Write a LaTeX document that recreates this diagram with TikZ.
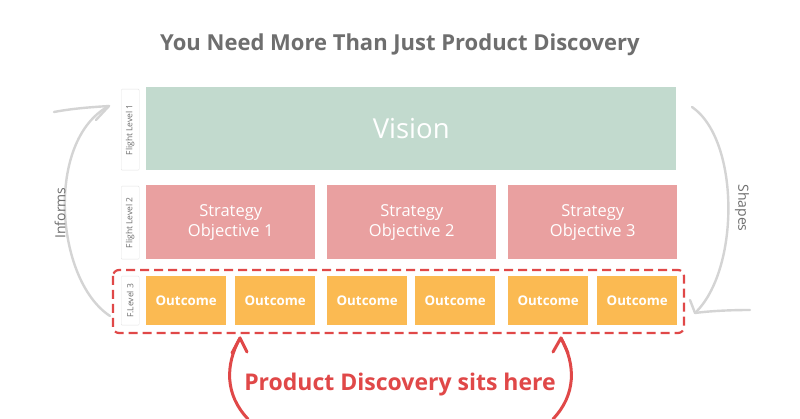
\documentclass[tikz,border=0pt]{standalone}
\usepackage{fontspec}
\setmainfont{Open Sans}
\usetikzlibrary{arrows.meta}
\definecolor{vis}{HTML}{C2DACE}
\definecolor{strat}{HTML}{E9A0A0}
\definecolor{outc}{HTML}{FBBA52}
\definecolor{myred}{HTML}{E04848}
\definecolor{tgray}{HTML}{6E6E6E}
\definecolor{agray}{HTML}{D4D4D4}
\tikzset{
  box/.style={draw=none,inner sep=0pt,anchor=north west,text=white,align=center,font=\fontsize{16.5}{20}\selectfont},
  lvl/.style={draw=agray!60,line width=0.4pt,rounded corners=1pt,inner sep=0pt,anchor=north west},
  lvltext/.style={rotate=90,text=tgray,font=\fontsize{8.5}{10}\selectfont},
  outbox/.style={box,fill=outc,minimum width=80pt,minimum height=49pt,font=\bfseries\fontsize{13.3}{16}\selectfont},
  stbox/.style={box,fill=strat,minimum width=169pt,minimum height=74pt},
  garrow/.style={draw=agray,line width=2.4pt,line cap=round,line join=round},
  rarrow/.style={draw=myred,line width=3pt,line cap=round,line join=round}
}
\begin{document}
\begin{tikzpicture}[x=1pt,y=-1pt]
\useasboundingbox[fill=white] (0,0) rectangle (800,419);
\node[text=tgray,font=\bfseries\fontsize{22}{26}\selectfont] (title) at (400,45) {You Need More Than Just Product Discovery};
\node[box,fill=vis,minimum width=530pt,minimum height=83pt,font=\fontsize{27.5}{32}\selectfont] (vision) at (146,87) {Vision};
\node[stbox] (s1) at (146,185) {Strategy\\Objective 1};
\node[stbox] (s2) at (327,185) {Strategy\\Objective 2};
\node[stbox] (s3) at (508,185) {Strategy\\Objective 3};
\foreach \i/\x in {1/146,2/235,3/327,4/415,5/508,6/597}
  \node[outbox] (o\i) at (\x,276) {Outcome};
\node[lvl,minimum width=18pt,minimum height=81pt] (l1) at (121,89) {};
\node[lvltext] at (l1.center) {Flight Level 1};
\node[lvl,minimum width=18pt,minimum height=73pt] (l2) at (121,186) {};
\node[lvltext] at (l2.center) {Flight Level 2};
\node[lvl,minimum width=18pt,minimum height=49pt] (l3) at (121,276) {};
\node[lvltext] at (l3.center) {F.Level 3};
\draw[myred,line width=2.2pt,dash pattern=on 9pt off 5pt,rounded corners=6pt] (113,270) rectangle (684,333);
% Informs arrow
\coordinate (ia) at (110,316);
\coordinate (ib) at (109,106);
\draw[garrow] (ia) .. controls (55,280) and (45,140) .. (ib);
\draw[garrow] (54,112) .. controls (75,108) and (95,107) .. (ib) -- (96,120);
\node[rotate=90,text=tgray,font=\fontsize{14}{17}\selectfont] (inf) at (60,213) {Informs};
% Shapes arrow
\coordinate (sa) at (692,107);
\coordinate (sb) at (695,313);
\draw[garrow] (sa) .. controls (740,140) and (740,270) .. (sb);
\draw[garrow] (750,310) .. controls (730,310) and (710,311) .. (sb) -- (690,300);
\node[rotate=-90,text=tgray,font=\fontsize{14}{17}\selectfont] (shp) at (742,208) {Shapes};
% bottom
\node[text=myred,font=\bfseries\fontsize{23}{28}\selectfont] (pd) at (400,385) {Product Discovery sits here};
\coordinate (la) at (240,338);
\coordinate (ra) at (561,338);
\draw[rarrow] (248,419) .. controls (225,395) and (225,365) .. (la);
\draw[rarrow] (232,353) -- (la) -- (247,352);
\draw[rarrow] (553,419) .. controls (576,395) and (576,365) .. (ra);
\draw[rarrow] (553,352) -- (ra) -- (568,353);
\end{tikzpicture}
\end{document}
